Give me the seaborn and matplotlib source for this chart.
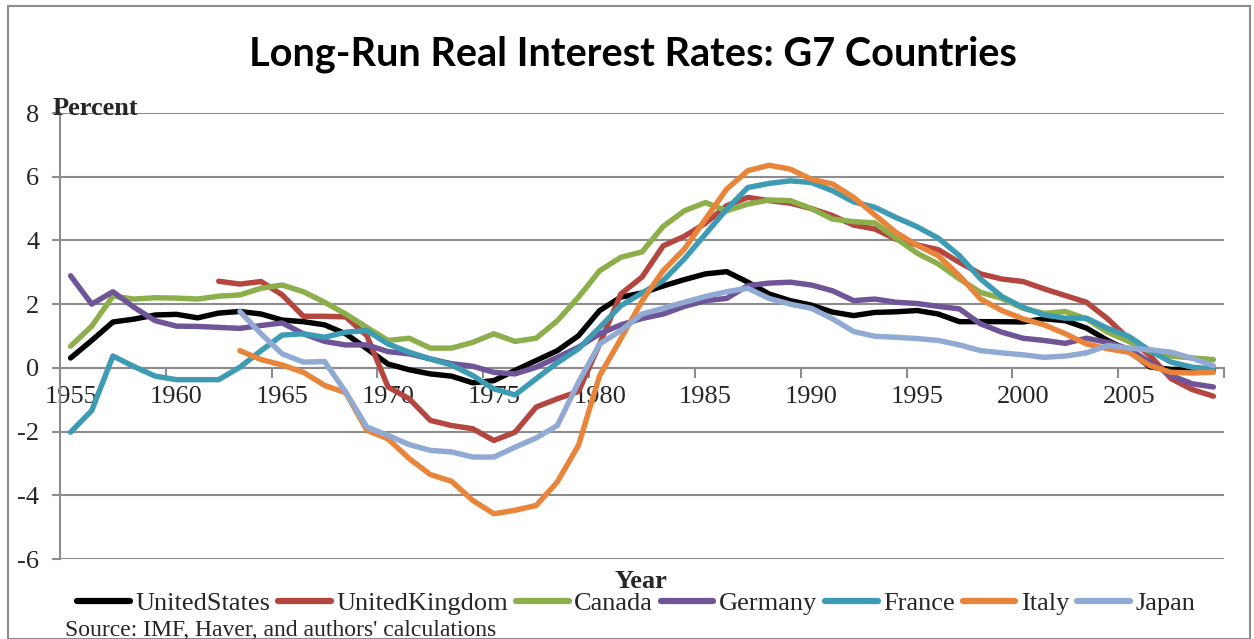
import numpy as np
import pandas as pd
import matplotlib
matplotlib.use('Agg')
import matplotlib.pyplot as plt
import seaborn as sns
from matplotlib.patches import Rectangle

# data
years = list(range(1955, 2010))

us = [0.31, 0.86, 1.44, 1.53, 1.66, 1.68, 1.57, 1.72, 1.77, 1.69,
      1.50, 1.45, 1.35, 1.07, 0.60, 0.12, -0.06, -0.19, -0.26, -0.47,
      -0.40, -0.08, 0.23, 0.54, 1.01, 1.80, 2.22, 2.35, 2.57, 2.77,
      2.95, 3.02, 2.69, 2.32, 2.11, 1.97, 1.75, 1.64, 1.74, 1.76,
      1.80, 1.69, 1.45, 1.45, 1.45, 1.44, 1.54, 1.48, 1.25, 0.86,
      0.54, 0.03, -0.05, -0.04, -0.05]
uk = [None] * 7 + [
      2.72, 2.63, 2.71, 2.29, 1.62, 1.62, 1.60, 1.01, -0.60, -0.97,
      -1.65, -1.81, -1.91, -2.28, -2.02, -1.23, -0.97, -0.74, 0.75, 2.32,
      2.85, 3.83, 4.13, 4.54, 5.09, 5.35, 5.25, 5.17, 5.00, 4.78,
      4.48, 4.36, 4.04, 3.86, 3.71, 3.31, 2.95, 2.79, 2.71, 2.48,
      2.27, 2.06, 1.54, 0.91, 0.39, -0.34, -0.68, -0.89]
canada = [0.68, 1.31, 2.25, 2.16, 2.20, 2.19, 2.16, 2.25, 2.29, 2.50,
          2.60, 2.39, 2.06, 1.69, 1.27, 0.86, 0.93, 0.62, 0.62, 0.80,
          1.07, 0.83, 0.93, 1.48, 2.22, 3.05, 3.47, 3.64, 4.44, 4.93,
          5.19, 4.93, 5.14, 5.27, 5.25, 5.00, 4.67, 4.59, 4.55, 4.07,
          3.60, 3.26, 2.79, 2.37, 2.18, 1.87, 1.71, 1.77, 1.54, 1.12,
          0.83, 0.51, 0.37, 0.31, 0.26]
germany = [2.89, 2.00, 2.39, 1.90, 1.48, 1.31, 1.30, 1.27, 1.24, 1.33,
           1.41, 1.07, 0.83, 0.72, 0.72, 0.51, 0.44, 0.28, 0.13, 0.05,
           -0.14, -0.19, 0.02, 0.33, 0.65, 1.07, 1.35, 1.55, 1.69, 1.93,
           2.11, 2.18, 2.58, 2.66, 2.69, 2.60, 2.42, 2.11, 2.16, 2.06,
           2.02, 1.93, 1.85, 1.38, 1.12, 0.93, 0.86, 0.77, 0.93, 0.80,
           0.60, 0.18, -0.24, -0.50, -0.60]
france = [-2.02, -1.34, 0.37, 0.04, -0.26, -0.37, -0.37, -0.37, 0.02, 0.54,
          1.03, 1.07, 0.96, 1.12, 1.17, 0.75, 0.49, 0.28, 0.09, -0.24,
          -0.66, -0.85, -0.34, 0.16, 0.60, 1.27, 1.95, 2.35, 2.74, 3.42,
          4.20, 4.98, 5.66, 5.79, 5.87, 5.82, 5.56, 5.21, 5.04, 4.72,
          4.43, 4.07, 3.52, 2.79, 2.24, 1.90, 1.66, 1.56, 1.56, 1.24,
          0.99, 0.54, 0.18, 0.02, -0.03]
italy = [None] * 8 + [
         0.54, 0.26, 0.09, -0.14, -0.55, -0.78, -1.96, -2.23, -2.85, -3.35,
         -3.56, -4.16, -4.58, -4.47, -4.32, -3.58, -2.43, -0.24, 0.91, 2.10,
         3.05, 3.73, 4.67, 5.61, 6.19, 6.36, 6.24, 5.92, 5.77, 5.35,
         4.80, 4.25, 3.85, 3.52, 2.89, 2.16, 1.80, 1.54, 1.35, 1.07,
         0.75, 0.60, 0.49, 0.07, -0.14, -0.16, -0.14]
japan = [None] * 8 + [
         1.77, 1.07, 0.44, 0.18, 0.20, -0.76, -1.86, -2.12, -2.41, -2.59,
         -2.64, -2.80, -2.80, -2.49, -2.20, -1.81, -0.45, 0.75, 1.17, 1.69,
         1.87, 2.06, 2.24, 2.39, 2.50, 2.18, 2.00, 1.87, 1.54, 1.14,
         0.99, 0.96, 0.92, 0.86, 0.72, 0.54, 0.47, 0.41, 0.33, 0.37,
         0.47, 0.70, 0.62, 0.57, 0.49, 0.30, 0.07]

countries = ['UnitedStates', 'UnitedKingdom', 'Canada', 'Germany',
             'France', 'Italy', 'Japan']
colors = ['#000000', '#B4453F', '#8CAE4B', '#6F5597', '#3D9BB4',
          '#E8853A', '#90AAD3']

df = pd.DataFrame({'Year': years, 'UnitedStates': us, 'UnitedKingdom': uk,
                   'Canada': canada, 'Germany': germany, 'France': france,
                   'Italy': italy, 'Japan': japan})
long = df.melt(id_vars='Year', var_name='Country', value_name='Rate').dropna()

sns.set_style('white')
plt.rcParams['font.family'] = ['Liberation Serif', 'DejaVu Serif']
plt.rcParams['axes.unicode_minus'] = False

fig = plt.figure(figsize=(12.54, 6.39), dpi=100)
ax = fig.add_axes([60 / 1254, 80 / 639, 1164 / 1254, 446 / 639])

sns.lineplot(data=long, x='Year', y='Rate', hue='Country',
             hue_order=countries, palette=colors, linewidth=3.9,
             ax=ax, legend=False)

grid_c = '#8C8C8C'
ax.set_xlim(1954.5, 2009.5)
ax.set_ylim(-6, 8)
ax.set_yticks(range(-6, 9, 2))
for v in range(-6, 9, 2):
    ax.axhline(v, color=grid_c, lw=1.5, zorder=0)

# category style x axis crossing at zero
for s in ['top', 'right']:
    ax.spines[s].set_visible(False)
ax.spines['bottom'].set_position(('data', 0))
ax.spines['bottom'].set_color(grid_c)
ax.spines['bottom'].set_linewidth(1.5)
ax.spines['bottom'].set_zorder(0)
ax.spines['left'].set_color(grid_c)
ax.spines['left'].set_linewidth(1.5)

ax.set_xticks(np.arange(1954.5, 2010, 5))
ax.set_xticklabels([])
ax.set_xticks(range(1955, 2009, 5), minor=True)
ax.set_xticklabels([str(y) for y in range(1955, 2009, 5)], minor=True)
ax.tick_params(axis='x', which='major', direction='out', length=7,
               width=1.5, color=grid_c, bottom=True)
ax.tick_params(axis='x', which='minor', length=0, pad=13, labelsize=19)
ax.tick_params(axis='y', direction='out', length=6, width=1.5,
               color=grid_c, left=True, pad=9, labelsize=19)
ax.set_xlabel('')
ax.set_ylabel('')

fig.suptitle('Long-Run Real Interest Rates: G7 Countries', x=0.505, y=0.945,
             fontsize=28.5, fontweight='bold', color='black',
             family=['Lato', 'DejaVu Sans'])
fig.text(53 / 1254, 1 - 115 / 639, 'Percent', fontsize=19,
         fontweight='bold', va='baseline', ha='left')
fig.text(641 / 1254, 1 - 588 / 639, 'Year', fontsize=19,
         fontweight='bold', va='baseline', ha='center')
fig.text(65 / 1254, 1 - 636 / 639,
         "Source: IMF, Haver, and authors' calculations", fontsize=17,
         va='baseline', ha='left')

handles = [plt.Line2D([], [], color=c, lw=4.5, solid_capstyle='round')
           for c in colors]
fig.legend(handles, countries, loc='center', bbox_to_anchor=(636 / 1254, 1 - 603 / 639),
           ncol=7, frameon=False, fontsize=19, handlelength=2.0,
           handletextpad=0.2, columnspacing=0.3, borderpad=0, borderaxespad=0)

fig.patches.append(Rectangle((8 / 1254, 0), 1242 / 1254, 1 - 6 / 639,
                             transform=fig.transFigure, fill=False,
                             edgecolor='#8C8C8C', lw=1.5))

fig.savefig('out.png', dpi=100)
